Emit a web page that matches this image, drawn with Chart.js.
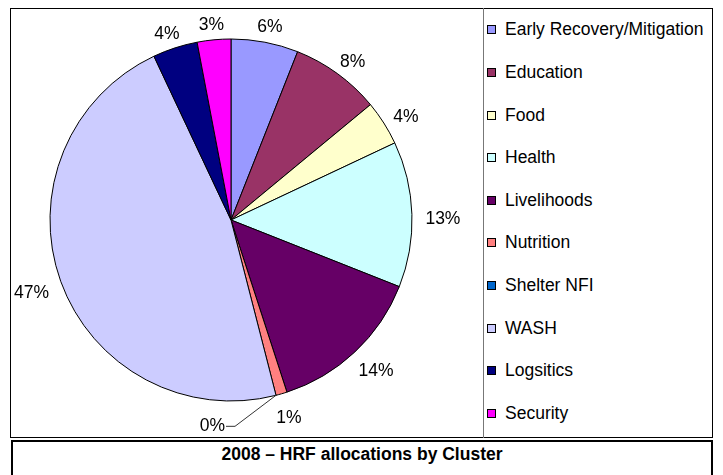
<!DOCTYPE html>
<html>
<head>
<meta charset="utf-8">
<script src="https://cdn.jsdelivr.net/npm/chart.js@4.4.0/dist/chart.umd.min.js"></script>
<style>
  body { margin: 0; background: #fff; font-family: "Liberation Sans", Arial, sans-serif; }
  #wrap { position: relative; width: 723px; height: 475px; overflow: hidden; }
  .frame { position: absolute; left: 10px; top: 8px; width: 703px; height: 430px; border: 1px solid #000; box-sizing: border-box; }
  .sep { position: absolute; left: 483px; top: 8px; width: 1px; height: 430px; background: #777; }
  #legend { position: absolute; left: 487px; top: 8.7px; }
  .row { height: 42.6px; display: flex; align-items: center; font-size: 17.5px; color: #000; white-space: nowrap; }
  .sw { width: 9px; height: 9px; border: 1px solid #000; box-sizing: border-box; margin-right: 9px; flex: none; }
  .titlebox { position: absolute; left: 11px; top: 440px; width: 702px; height: 60px; border: 2px solid #000; box-sizing: border-box; }
  .title { position: absolute; left: 11px; top: 442px; width: 702px; height: 24px; line-height: 24px; text-align: center; font-weight: bold; font-size: 17.5px; color: #000; }
  canvas { position: absolute; left: 0; top: 0; }
</style>
</head>
<body>
<div id="wrap">
  <div class="frame"></div>
  <div class="sep"></div>
  <div id="legend"></div>
  <div class="titlebox"></div>
  <div class="title">2008 – HRF allocations by Cluster</div>
  <canvas id="pieChart" width="723" height="475"></canvas>
</div>

<script>
// 클러스터별 배분 비율 (%)
const clusters = ['Early Recovery/Mitigation', 'Education', 'Food', 'Health', 'Livelihoods',
                  'Nutrition', 'Shelter NFI', 'WASH', 'Logsitics', 'Security'];
const shares = [6, 8, 4, 13, 14, 1, 0, 47, 4, 3];
const sliceColors = ['#9999FF', '#993366', '#FFFFCC', '#CCFFFF', '#660066',
                     '#FF8080', '#0066CC', '#CCCCFF', '#000080', '#FF00FF'];

// 범례 (HTML)
const legendBox = document.getElementById('legend');
clusters.forEach((name, i) => {
  const row = document.createElement('div');
  row.className = 'row';
  const sw = document.createElement('span');
  sw.className = 'sw';
  sw.style.background = sliceColors[i];
  const txt = document.createElement('span');
  txt.textContent = name;
  row.append(sw, txt);
  legendBox.append(row);
});

// 조각 바깥쪽에 % 라벨 그리기
const pctLabels = {
  id: 'pctLabels',
  afterDatasetsDraw(chart) {
    const ctx = chart.ctx;
    const meta = chart.getDatasetMeta(0);
    ctx.save();
    ctx.font = '17.5px "Liberation Sans", Arial, sans-serif';
    ctx.fillStyle = '#000';
    ctx.textBaseline = 'middle';
    meta.data.forEach((arc, i) => {
      const p = arc.getProps(['x', 'y', 'startAngle', 'endAngle', 'outerRadius'], true);
      const a = (p.startAngle + p.endAngle) / 2;
      const ux = Math.cos(a), uy = Math.sin(a);
      const text = shares[i] + '%';

      if (shares[i] === 0) {
        // 0% 는 지시선으로 빼서 표시
        const ex = p.x + p.outerRadius * ux, ey = p.y + p.outerRadius * uy;
        const bx = ex - 41, by = ey + 31;
        ctx.strokeStyle = '#333';
        ctx.lineWidth = 1;
        ctx.beginPath();
        ctx.moveTo(ex, ey);
        ctx.lineTo(bx, by);
        ctx.lineTo(bx - 9, by);
        ctx.stroke();
        ctx.textAlign = 'right';
        ctx.fillText(text, bx - 10, by);
        return;
      }

      const hw = ctx.measureText(text).width / 2;
      const hh = 6.5;
      const R = p.outerRadius + 13.5;
      ctx.textAlign = 'center';
      ctx.fillText(text, p.x + R * ux + hw * ux, p.y + R * uy + hh * uy + 5);
    });
    ctx.restore();
  }
};

new Chart(document.getElementById('pieChart'), {
  type: 'pie',
  data: {
    labels: clusters,
    datasets: [{
      data: shares,
      backgroundColor: sliceColors,
      borderColor: '#000',
      borderWidth: 1,
      radius: 181
    }]
  },
  options: {
    responsive: false,
    animation: false,
    devicePixelRatio: 1,
    layout: { padding: { left: 0, right: 261, top: 0, bottom: 35 } },
    plugins: {
      legend: { display: false },
      tooltip: { enabled: false }
    }
  },
  plugins: [pctLabels]
});
</script>
</body>
</html>
